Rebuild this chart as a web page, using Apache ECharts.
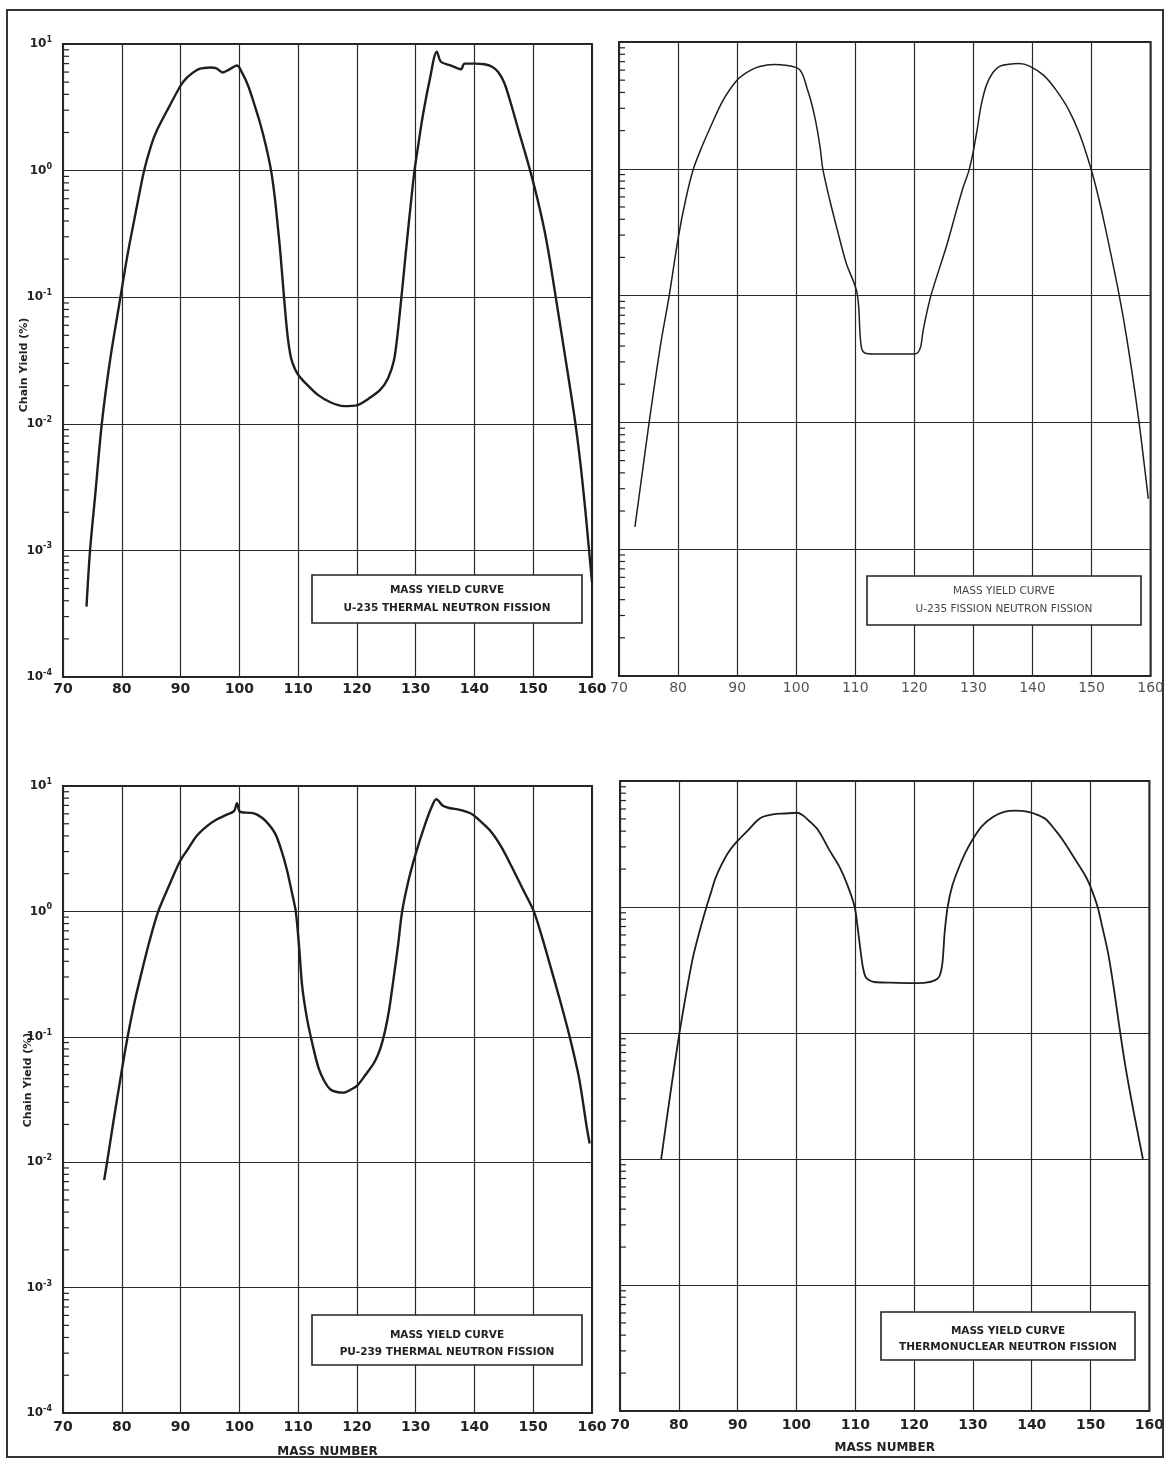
<!DOCTYPE html>
<html>
<head>
<meta charset="utf-8">
<script src="https://cdn.jsdelivr.net/npm/echarts@6/dist/echarts.min.js"></script>
<style>
html,body{margin:0;padding:0;background:#fff;}
#chart{width:1167px;height:1459px;}
</style>
</head>
<body>
<div id="chart"></div>
<script>
// ---- Data (mass number, chain yield %) ----
const massU235Thermal = [74, 74.6, 75.5, 76.6, 78, 79.7, 81, 82.5, 83.8, 85, 86, 88, 90, 91, 92, 93, 94, 95, 96, 97.2, 98.3, 99.6, 100.5, 101.5, 102.5, 103.5, 104.5, 105.4, 106, 106.5, 107, 107.6, 108.2, 108.8, 109.5, 110.3, 111.5, 113.3, 115.5, 117.8, 120, 122, 124, 125.3, 126.3, 126.9, 127.4, 128, 128.6, 129.2, 129.8, 130.5, 131.2, 132.4, 133.6, 134.3, 136, 137.7, 138.3, 140, 141.7, 143, 144, 145.1, 146.2, 147.3, 148.5, 149.6, 150.8, 151.9, 152.8, 153.6, 155.3, 157, 158, 158.9, 159.5, 160];
const yieldU235Thermal = [0.00036, 0.001, 0.0028, 0.01, 0.0316, 0.0955, 0.219, 0.501, 1.0, 1.585, 2.09, 3.16, 4.68, 5.37, 5.89, 6.31, 6.46, 6.53, 6.46, 5.96, 6.31, 6.76, 5.89, 4.68, 3.39, 2.40, 1.585, 1.0, 0.631, 0.380, 0.219, 0.1, 0.050, 0.0331, 0.0269, 0.0234, 0.0204, 0.0170, 0.0148, 0.0138, 0.0140, 0.0158, 0.0186, 0.0229, 0.0316, 0.050, 0.083, 0.158, 0.302, 0.562, 1.0, 1.66, 2.69, 5.25, 8.71, 7.24, 6.76, 6.31, 7.0, 7.0, 6.92, 6.61, 6.03, 4.90, 3.39, 2.24, 1.445, 0.955, 0.575, 0.339, 0.2, 0.117, 0.0372, 0.0115, 0.0050, 0.0020, 0.001, 0.00056];

const massU235Fast = [72.7, 74, 75.1, 77, 78.5, 80, 81.3, 82.6, 84, 85.3, 87.5, 90, 92, 93.8, 96.3, 98.5, 99.9, 100.6, 101.2, 101.8, 102.4, 103, 103.6, 104.1, 104.5, 105.7, 107, 108.5, 109.7, 110.3, 110.6, 110.8, 111.1, 111.7, 113, 116, 120, 120.6, 121.1, 121.4, 121.8, 122.8, 125.5, 127, 128.3, 129.2, 129.9, 130.6, 131.3, 132.2, 133.3, 134.5, 136, 137.7, 139.5, 141.9, 144, 146.2, 148, 149.9, 151.2, 152.4, 154.6, 156, 157.9, 159.6];
const yieldU235Fast = [0.0015, 0.0042, 0.01, 0.040, 0.1, 0.282, 0.575, 1.0, 1.479, 2.04, 3.39, 5.01, 5.89, 6.41, 6.65, 6.53, 6.31, 6.03, 5.37, 4.37, 3.55, 2.75, 1.995, 1.413, 1.0, 0.562, 0.324, 0.178, 0.129, 0.105, 0.079, 0.050, 0.038, 0.0351, 0.0347, 0.0347, 0.0347, 0.0355, 0.040, 0.050, 0.063, 0.1, 0.251, 0.447, 0.724, 0.955, 1.318, 1.995, 3.16, 4.57, 5.75, 6.46, 6.68, 6.76, 6.46, 5.45, 4.17, 2.88, 1.862, 1.0, 0.589, 0.331, 0.105, 0.0447, 0.0112, 0.0025];

const massPu239Thermal = [77.0, 77.5, 78.5, 80, 81, 82.2, 83.3, 84.7, 86.2, 88, 89.9, 91.3, 92.7, 94.5, 96.2, 97.8, 99.1, 99.6, 100.0, 100.4, 102, 103.1, 104.5, 106.1, 107.2, 108.1, 108.9, 109.6, 110.2, 110.7, 111.5, 112.5, 113.5, 114.5, 115.5, 116.6, 117.7, 119, 120.1, 121.5, 123, 124, 124.8, 125.5, 126.2, 127, 127.7, 128.8, 130, 131.5, 132.7, 133.5, 134.7, 135.9, 137.5, 139.4, 141, 142.8, 144.5, 146.3, 148.2, 150.1, 151.4, 152.7, 154.5, 156.2, 157.8, 159.1, 159.6];
const yieldPu239Thermal = [0.0072, 0.01, 0.020, 0.054, 0.1, 0.191, 0.316, 0.575, 1.0, 1.585, 2.51, 3.16, 3.98, 4.79, 5.43, 5.89, 6.31, 7.29, 6.31, 6.17, 6.10, 5.89, 5.25, 4.17, 3.02, 2.14, 1.445, 1.0, 0.501, 0.251, 0.141, 0.085, 0.056, 0.044, 0.038, 0.0363, 0.0359, 0.038, 0.041, 0.050, 0.063, 0.081, 0.112, 0.166, 0.282, 0.537, 1.0, 1.778, 2.88, 4.79, 6.76, 7.83, 6.92, 6.65, 6.46, 6.03, 5.25, 4.34, 3.31, 2.29, 1.514, 1.0, 0.646, 0.398, 0.2, 0.1, 0.0468, 0.0191, 0.0141];

const massThermonuclear = [77, 78.5, 80, 81.2, 82.4, 83.6, 84.7, 85.5, 86.2, 87.2, 88.5, 90.1, 92, 93.2, 94.2, 96, 98, 100.1, 101, 102, 103.7, 105.5, 107.3, 108.7, 109.9, 110.5, 110.9, 111.3, 111.7, 112.3, 113.2, 116, 119.8, 122, 123.6, 124.3, 124.8, 125.2, 125.7, 126.5, 127.5, 128.7, 130, 131.5, 133.4, 135.3, 137.3, 139, 140.5, 142.3, 144, 145.3, 147.5, 149.2, 150, 151.2, 152, 153, 154, 154.8, 155.7, 156.7, 157.8, 158.9];
const yieldThermonuclear = [0.01, 0.0316, 0.093, 0.2, 0.398, 0.661, 1.0, 1.318, 1.679, 2.14, 2.75, 3.39, 4.17, 4.79, 5.18, 5.43, 5.52, 5.60, 5.37, 4.90, 4.07, 2.88, 2.09, 1.479, 1.0, 0.631, 0.447, 0.331, 0.282, 0.263, 0.254, 0.251, 0.249, 0.251, 0.263, 0.282, 0.355, 0.631, 1.0, 1.479, 1.995, 2.69, 3.47, 4.37, 5.18, 5.69, 5.82, 5.75, 5.50, 5.01, 4.07, 3.39, 2.34, 1.74, 1.445, 1.0, 0.692, 0.427, 0.219, 0.12, 0.063, 0.0339, 0.0182, 0.01];

const xTicks = [70, 80, 90, 100, 110, 120, 130, 140, 150, 160];
const yMin = 1e-4, yMax = 10;
const legendTitle = 'MASS YIELD CURVE';
const panelLabels = ['U-235 THERMAL NEUTRON FISSION', 'U-235 FISSION NEUTRON FISSION', 'PU-239 THERMAL NEUTRON FISSION', 'THERMONUCLEAR NEUTRON FISSION'];
const yAxisTitle = 'Chain Yield (%)';
const xAxisTitle = 'MASS NUMBER';

// ---- Chart ----
const INK = '#1e1e1e';
const FONT = 'DejaVu Sans, Liberation Sans, sans-serif';
const chart = echarts.init(document.getElementById('chart'), null, {renderer: 'canvas'});

const grids = [
  {left: 63, top: 44, width: 529, height: 633},
  {left: 619, top: 42, width: 532, height: 634},
  {left: 63, top: 786, width: 529, height: 630},
  {left: 620, top: 781, width: 533, height: 630}
];

const seriesSets = [
  [massU235Thermal, yieldU235Thermal, 2.4],
  [massU235Fast, yieldU235Fast, 1.5],
  [massPu239Thermal, yieldPu239Thermal, 2.4],
  [massThermonuclear, yieldThermonuclear, 1.8]
];

// minor tick positions on the log axis (2..9 within each decade)
const minorTicks = [];
for (let k = -4; k < 1; k++) for (let m = 2; m <= 9; m++) minorTicks.push(m * Math.pow(10, k));

function supLabel(v) {
  const e = Math.round(Math.log10(v));
  return '{b|10}{s|' + (e < 0 ? '-' + (-e) : e) + '}';
}

const xAxes = grids.map((g, i) => ({
  type: 'value', gridIndex: i, min: 70, max: 160, interval: 10,
  axisLine: {show: false}, axisTick: {show: false},
  splitLine: {show: true, lineStyle: {color: '#2a2a2a', width: 1.2}},
  axisLabel: {
    show: true, margin: i < 2 ? 5 : 7, fontSize: 14,
    fontWeight: i === 1 ? 'normal' : 'bold', color: i === 1 ? '#555' : '#222',
    fontFamily: FONT,
    formatter: v => xTicks.includes(v) ? String(v) : ''
  },
  name: i >= 2 ? xAxisTitle : '', nameLocation: 'middle', nameGap: i === 2 ? 33 : 31,
  nameTextStyle: {fontSize: 12, fontWeight: 'bold', color: '#222', fontFamily: FONT}
}));

const yAxes = grids.map((g, i) => ({
  type: 'log', logBase: 10, gridIndex: i, min: yMin, max: yMax,
  axisLine: {show: false}, axisTick: {show: false},
  splitLine: {show: true, lineStyle: {color: '#2a2a2a', width: 1.2}},
  axisLabel: {
    show: i % 2 === 0, margin: 11, formatter: supLabel,
    rich: {
      b: {fontSize: 12, fontWeight: 'bold', color: '#222', fontFamily: FONT, lineHeight: 16},
      s: {fontSize: 8, fontWeight: 'bold', color: '#222', fontFamily: FONT, verticalAlign: 'top', lineHeight: 16}
    }
  }
}));

const series = [];
seriesSets.forEach((s, i) => {
  series.push({
    type: 'line', xAxisIndex: i, yAxisIndex: i,
    data: s[0].map((m, j) => [m, s[1][j]]),
    showSymbol: false, smooth: 0.3, z: 5,
    lineStyle: {color: INK, width: s[2]}
  });
  series.push({
    type: 'custom', xAxisIndex: i, yAxisIndex: i, silent: true, z: 4, clip: false,
    data: minorTicks.map(v => [70, v]),
    renderItem: (params, api) => {
      const p = api.coord([api.value(0), api.value(1)]);
      return {type: 'line', shape: {x1: p[0], y1: p[1], x2: p[0] + 6, y2: p[1]},
              style: {stroke: '#222', lineWidth: 1.2}};
    }
  });
});

const boxes = [
  {x: 312, y: 575, w: 270, h: 48, l1: 590, l2: 608, bold: true},
  {x: 867, y: 576, w: 274, h: 49, l1: 591, l2: 609, bold: false},
  {x: 312, y: 1315, w: 270, h: 50, l1: 1335, l2: 1352, bold: true},
  {x: 881, y: 1312, w: 254, h: 48, l1: 1331, l2: 1347, bold: true}
];

const graphics = [
  {type: 'rect', z: 100, shape: {x: 7, y: 10, width: 1156, height: 1447},
   style: {fill: 'none', stroke: '#333', lineWidth: 2}}
];
boxes.forEach((b, i) => {
  const font = (b.bold ? 'bold ' : '') + '10.5px ' + FONT;
  graphics.push({type: 'rect', z: 100, shape: {x: b.x, y: b.y, width: b.w, height: b.h},
    style: {fill: '#fff', stroke: '#222', lineWidth: 1.6}});
  graphics.push({type: 'text', z: 101, style: {text: legendTitle, x: b.x + b.w / 2, y: b.l1,
    textAlign: 'center', textVerticalAlign: 'middle', font: font, fill: b.bold ? '#222' : '#444'}});
  graphics.push({type: 'text', z: 101, style: {text: panelLabels[i], x: b.x + b.w / 2, y: b.l2,
    textAlign: 'center', textVerticalAlign: 'middle', font: font, fill: b.bold ? '#222' : '#444'}});
});
[[24, 365], [28, 1080]].forEach(p => {
  graphics.push({type: 'text', z: 101, x: p[0], y: p[1], rotation: Math.PI / 2,
    style: {text: yAxisTitle, x: 0, y: 0, textAlign: 'center', textVerticalAlign: 'middle',
      font: 'bold 11px ' + FONT, fill: '#222'}});
});

chart.setOption({
  backgroundColor: '#fff',
  animation: false,
  grid: grids.map(g => Object.assign({show: true, borderColor: '#222', borderWidth: 2, backgroundColor: 'transparent'}, g)),
  xAxis: xAxes,
  yAxis: yAxes,
  series: series,
  graphic: graphics
});
</script>
</body>
</html>
